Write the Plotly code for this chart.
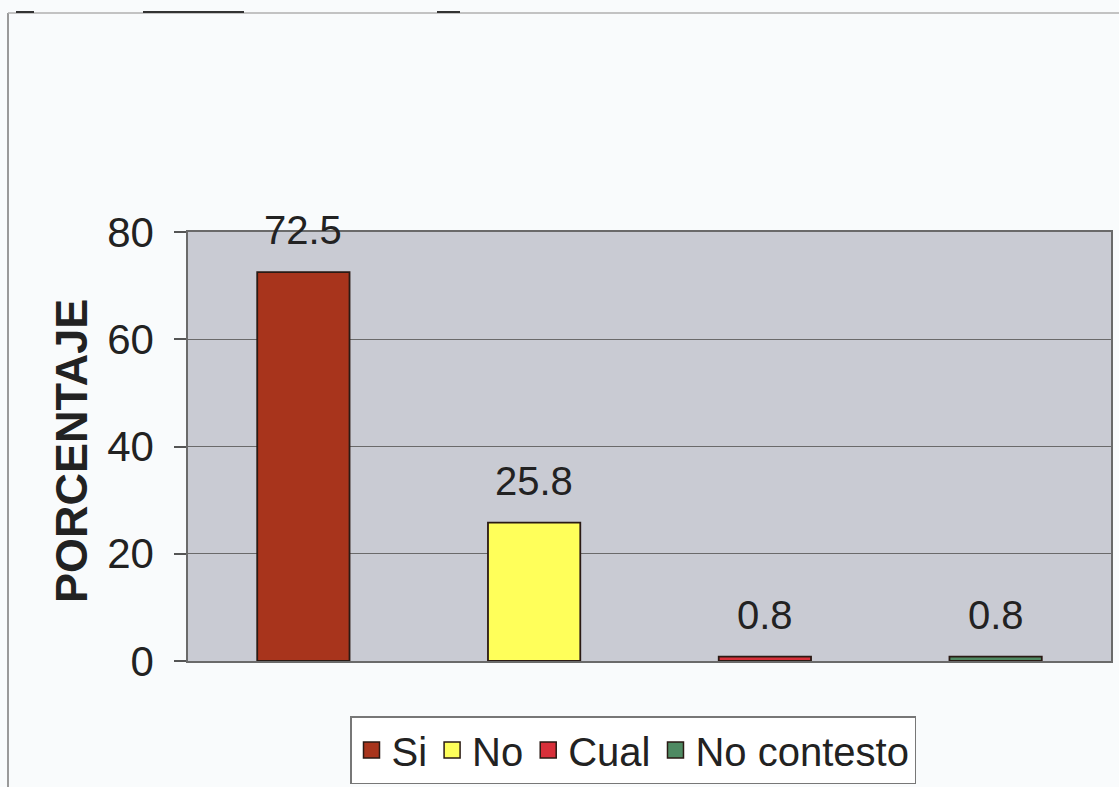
import plotly.graph_objects as go

categories = ["Si", "No", "Cual", "No contesto"]
values = [72.5, 25.8, 0.8, 0.8]
labels = ["72.5", "25.8", "0.8", "0.8"]
fills = ["#A8341C", "#FFFF5A", "#D8303A", "#4F8A62"]
y_ticks = [0, 20, 40, 60, 80]

W, H = 1119, 787
L, R, T, B = 188, 8, 232, 126
PW, PH = W - L - R, H - T - B
BOT = H - B

def px(x):
    return (x - L) / PW

def py(y):
    return (BOT - y) / PH

FONT = "Liberation Sans, Arial, sans-serif"

fig = go.Figure()
for c, v, col in zip(categories, values, fills):
    fig.add_trace(go.Bar(
        x=[c], y=[v], name=c, width=0.4, showlegend=False,
        marker=dict(color=col, line=dict(color="#2a1a14", width=1.8)),
    ))
# legend entries (larger square swatches)
for c, col in zip(categories, fills):
    fig.add_trace(go.Scatter(
        x=[None], y=[None], name=c, mode="markers",
        marker=dict(symbol="square", size=16, color=col, line=dict(color="#2a1a14", width=1.5)),
    ))

for c, v, t in zip(categories, values, labels):
    fig.add_annotation(x=c, y=v, text=t, showarrow=False, yanchor="bottom",
                       yshift=18, font=dict(size=40, color="#222222", family=FONT))

fig.add_annotation(x=px(71), y=py(451), xref="paper", yref="paper", text="<b>PORCENTAJE</b>",
                   textangle=-90, showarrow=False, xanchor="center", yanchor="middle",
                   font=dict(size=45, color="#222222", family=FONT))

shapes = [
    dict(type="line", xref="paper", yref="paper", x0=px(8), x1=px(8), y0=py(13), y1=py(790),
         line=dict(color="#9a9a9a", width=2)),
    dict(type="line", xref="paper", yref="paper", x0=px(8), x1=px(1125), y0=py(13), y1=py(13),
         line=dict(color="#b0b0b0", width=1.5)),
    dict(type="line", xref="paper", yref="paper", x0=px(16), x1=px(34), y0=py(12), y1=py(12),
         line=dict(color="#333333", width=2)),
    dict(type="line", xref="paper", yref="paper", x0=px(143), x1=px(244), y0=py(12), y1=py(12),
         line=dict(color="#333333", width=2)),
    dict(type="line", xref="paper", yref="paper", x0=px(437), x1=px(460), y0=py(12), y1=py(12),
         line=dict(color="#333333", width=2)),
]

fig.update_layout(
    width=W, height=H,
    margin=dict(l=L, r=R, t=T, b=B, autoexpand=False),
    paper_bgcolor="#F9FBFC",
    plot_bgcolor="#C9CBD3",
    barmode="overlay",
    shapes=shapes,
    showlegend=True,
    legend=dict(orientation="h", x=px(633), xanchor="center", y=py(716), yanchor="top",
                bordercolor="#777777", borderwidth=1.5, bgcolor="#FFFFFF",
                font=dict(size=40, color="#222222", family=FONT),
                itemwidth=30, tracegroupgap=0),
    xaxis=dict(showticklabels=False, ticks="", showline=True, mirror=True,
               linecolor="#6a6a6a", linewidth=1.5, showgrid=False),
    yaxis=dict(range=[0, 80], tickvals=y_ticks, ticks="outside", ticklen=12,
               tickcolor="#555555", tickwidth=1.5, ticklabelstandoff=12,
               tickfont=dict(size=42, color="#222222", family=FONT),
               showgrid=True, gridcolor="#6a6a6a", gridwidth=1.2,
               showline=True, mirror=True, linecolor="#6a6a6a", linewidth=1.5,
               zeroline=False),
)

fig.write_html("out.html")
